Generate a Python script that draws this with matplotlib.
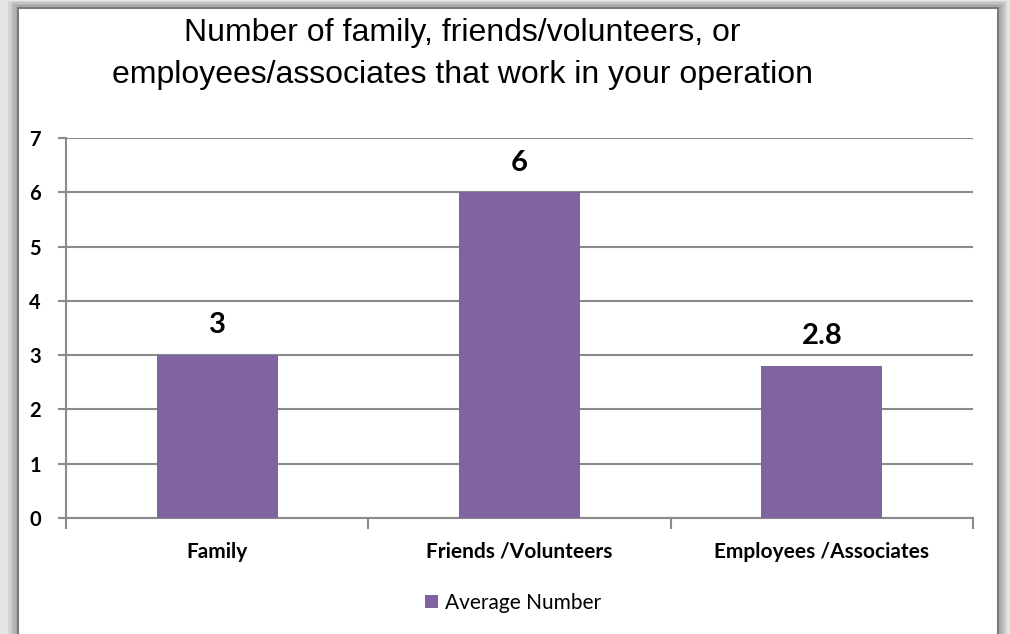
import matplotlib
matplotlib.use("Agg")
import matplotlib.pyplot as plt
from matplotlib.patches import Rectangle
import numpy as np

categories = ["Family", "Friends /Volunteers", "Employees /Associates"]
values = [3, 6, 2.8]
value_labels = ["3", "6", "2.8"]
series_name = "Average Number"
title = "Number of family, friends/volunteers, or\nemployees/associates that work in your operation"
yticks = [0, 1, 2, 3, 4, 5, 6, 7]

W, H = 1010, 634
fig = plt.figure(figsize=(W / 100, H / 100), dpi=100)
fig.patch.set_facecolor("white")

def px(x0, y0, x1, y1):
    """Figure-fraction rectangle from pixel box (top-left origin)."""
    return (x0 / W, 1 - y1 / H, (x1 - x0) / W, (y1 - y0) / H)

# soft shadow around the chart frame
bg = Rectangle((0, 0), 1, 1, transform=fig.transFigure, facecolor="#e6e6e6",
               edgecolor="none", zorder=-10)
fig.patches.append(bg)
for i, shade in enumerate(["#d4d4d4", "#c4c4c4", "#b4b4b4", "#a8a8a8"]):
    x0, y0, w, h = px(8 + i * 2.5, 1 + i * 1.5, 1007 - i * 2, H + 10)
    fig.patches.append(Rectangle((x0, y0), w, h, transform=fig.transFigure,
                                 facecolor=shade, edgecolor="none", zorder=-9 + i))
x0, y0, w, h = px(18, 8, 998, H + 10)
fig.patches.append(Rectangle((x0, y0), w, h, transform=fig.transFigure,
                             facecolor="white", edgecolor="#7a7a7a", linewidth=1.5,
                             zorder=-4))

# plot area
ax = fig.add_axes(px(66, 138, 973, 518))
ax.set_facecolor("none")
x = np.arange(len(categories))
color = "#8064A2"
bars = ax.bar(x, values, width=0.40, color=color, zorder=3, label=series_name)

ax.set_xlim(-0.5, len(categories) - 0.5)
ax.set_ylim(0, 7)
ax.set_yticks(yticks)
ax.set_yticklabels([str(t) for t in yticks], fontfamily="Lato", fontweight="bold",
                   fontsize=14.5)
ax.yaxis.grid(True, color="#8a8a8a", linewidth=1.5, zorder=0)
ax.set_axisbelow(True)

for s in ["top", "right"]:
    ax.spines[s].set_visible(False)
ax.spines["left"].set_color("#8a8a8a")
ax.spines["left"].set_linewidth(1.5)
ax.spines["bottom"].set_color("#8a8a8a")
ax.spines["bottom"].set_linewidth(1.5)

ax.tick_params(axis="y", length=6, width=1.5, color="#8a8a8a", pad=12)
# category boundaries carry the x tick marks
ax.set_xticks(np.arange(len(categories) + 1) - 0.5, minor=False)
ax.set_xticklabels([])
ax.tick_params(axis="x", length=8, width=1.5, color="#8a8a8a")
ax.set_xticks(x, minor=True)
ax.set_xticklabels(categories, minor=True, fontfamily="Lato", fontweight="bold",
                   fontsize=15)
ax.tick_params(axis="x", which="minor", length=0, pad=17)

for b, lab in zip(bars, value_labels):
    ax.annotate(lab, (b.get_x() + b.get_width() / 2, b.get_height()),
                xytext=(0, 12), textcoords="offset points", ha="center",
                va="bottom", fontfamily="Lato", fontweight="bold", fontsize=21)

fig.text(462 / W, 1 - 54 / H, title, ha="center", va="center",
         fontfamily="Liberation Sans", fontsize=23, linespacing=1.5)

leg = fig.legend(handles=[bars], labels=[series_name], loc="center",
                 bbox_to_anchor=(513 / W, 1 - 603 / H), frameon=False,
                 prop={"family": "Lato", "size": 15}, handlelength=0.6,
                 handleheight=0.6, handletextpad=0.35)

fig.savefig("out.png", dpi=100)
